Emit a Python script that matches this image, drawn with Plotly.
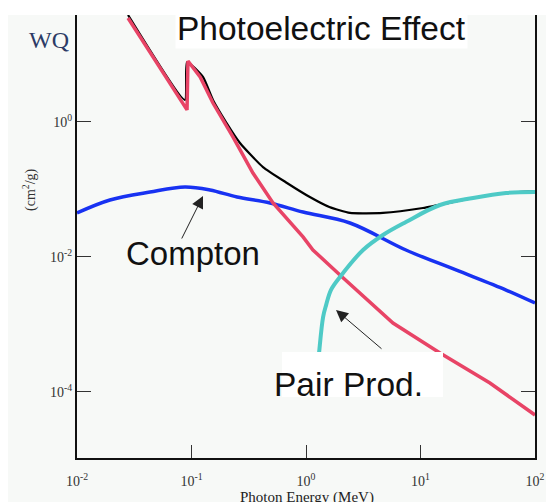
import plotly.graph_objects as go

# Photon energy (MeV) and mass attenuation (cm^2/g)
total_E = [0.0279, 0.0877, 0.0914, 0.126, 0.154, 0.200, 0.265, 0.421, 0.682, 1.08, 1.6, 2.42, 4.70, 10.5, 28.8, 55.9, 100]
total_mu = [38.5, 2.12, 7.74, 4.64, 2.12, 1.0, 0.489, 0.215, 0.125, 0.0774, 0.055, 0.0449, 0.0449, 0.0532, 0.0748, 0.0887, 0.095]

photo_E = [0.0279, 0.0914, 0.0931, 0.119, 0.154, 0.230, 0.344, 0.515, 0.942, 1.15, 1.98, 2.57, 5.75, 14.8, 40.4, 100]
photo_mu = [34.7, 1.51, 8.01, 4.64, 1.91, 0.600, 0.175, 0.0631, 0.0198, 0.0127, 0.00541, 0.00359, 0.00105, 0.000378, 0.000136, 0.0000456]

compton_E = [0.01, 0.0194, 0.0434, 0.0877, 0.145, 0.250, 0.485, 0.942, 2.42, 7.46, 20.4, 55.9, 100]
compton_mu = [0.0449, 0.0699, 0.0918, 0.109, 0.0984, 0.0774, 0.0631, 0.0464, 0.0319, 0.0127, 0.00642, 0.00324, 0.00208]

pair_E = [1.27, 1.30, 1.41, 1.50, 1.65, 1.98, 3.15, 4.70, 7.46, 14.8, 28.8, 55.9, 100]
pair_mu = [0.00025, 0.000378, 0.00129, 0.00195, 0.00324, 0.00506, 0.0127, 0.0212, 0.033, 0.0589, 0.0748, 0.0887, 0.0918]

x_ticks = [0.01, 0.1, 1, 10, 100]
x_labels = ["10<sup>-2</sup>", "10<sup>-1</sup>", "10<sup>0</sup>", "10<sup>1</sup>", "10<sup>2</sup>"]
y_ticks = [1, 0.01, 0.0001]
y_labels = ["10<sup>0</sup>", "10<sup>-2</sup>", "10<sup>-4</sup>"]

W, H = 546, 502
L, R, T, B = 77, 535, 15, 458


def px(x):
    return (x - L) / (R - L)


def py(y):
    return (B - y) / (B - T)


fig = go.Figure()
fig.add_trace(go.Scatter(x=total_E, y=total_mu, mode="lines",
                         line=dict(color="#000000", width=2.2, shape="spline", smoothing=0.5)))
fig.add_trace(go.Scatter(x=compton_E, y=compton_mu, mode="lines",
                         line=dict(color="#1832f2", width=3.5, shape="spline")))
fig.add_trace(go.Scatter(x=photo_E, y=photo_mu, mode="lines",
                         line=dict(color="#e84466", width=3.5)))
fig.add_trace(go.Scatter(x=pair_E, y=pair_mu, mode="lines",
                         line=dict(color="#4ecac6", width=4, shape="spline")))

serif = "Liberation Serif"
sans = "Liberation Sans"

fig.update_layout(
    width=W, height=H,
    margin=dict(l=L, r=W - R, t=T, b=H - B, autoexpand=False),
    paper_bgcolor="white",
    plot_bgcolor="#f7f9f7",
    showlegend=False,
    xaxis=dict(type="log", range=[-2, 2], tickvals=x_ticks, ticktext=x_labels,
               ticks="inside", ticklen=13, tickwidth=1, tickcolor="#333",
               showline=True, linecolor="#111", linewidth=2, mirror=False,
               showgrid=False, zeroline=False, automargin=False,
               ticklabelstandoff=9,
               tickfont=dict(family=serif, size=14, color="#333")),
    yaxis=dict(type="log", range=[-4.978, 1.585], tickvals=y_ticks, ticktext=y_labels,
               ticks="inside", ticklen=14, tickwidth=1, tickcolor="#333",
               showline=True, linecolor="#111", linewidth=2, mirror="ticks",
               showgrid=False, zeroline=False, automargin=False,
               tickfont=dict(family=serif, size=14, color="#333")),
    shapes=[
        dict(type="rect", xref="paper", yref="paper", layer="below",
             x0=px(8), x1=px(W), y0=py(15), y1=py(H),
             fillcolor="#f7f9f7", line=dict(width=0)),
        dict(type="rect", xref="paper", yref="paper", layer="above",
             x0=px(282), x1=px(443), y0=py(397), y1=py(352),
             fillcolor="white", line=dict(width=0)),
    ],
    annotations=[
        dict(text="Photoelectric Effect", xref="paper", yref="paper", x=px(321), y=py(28),
             showarrow=False, font=dict(family=sans, size=33.5, color="#111"), bgcolor="white",
             xanchor="center", yanchor="middle"),
        dict(text="Compton", xref="paper", yref="paper", x=px(193), y=py(254),
             showarrow=False, font=dict(family=sans, size=33, color="#111"),
             xanchor="center", yanchor="middle"),
        dict(text="Pair Prod.", xref="paper", yref="paper", x=px(348), y=py(384),
             showarrow=False, font=dict(family=sans, size=33.5, color="#111"),
             xanchor="center", yanchor="middle"),
        dict(text="", xref="paper", yref="paper", x=px(203), y=py(196),
             ax=181 - 203, ay=240 - 196, showarrow=True, arrowhead=2, arrowsize=2.4,
             arrowwidth=1, arrowcolor="#222"),
        dict(text="", xref="paper", yref="paper", x=px(336), y=py(310),
             ax=383 - 336, ay=350 - 310, showarrow=True, arrowhead=2, arrowsize=2.4,
             arrowwidth=1, arrowcolor="#222"),
        dict(text="WQ", xref="paper", yref="paper", x=px(49), y=py(40),
             showarrow=False, font=dict(family=serif, size=24, color="#2c3b66"),
             xanchor="center", yanchor="middle"),
        dict(text="(cm<sup>2</sup>/g)", xref="paper", yref="paper", x=px(29), y=py(190),
             showarrow=False, textangle=-90, font=dict(family=serif, size=14, color="#333"),
             xanchor="center", yanchor="middle"),
        dict(text="Photon Energy (MeV)", xref="paper", yref="paper", x=px(307), y=py(487),
             showarrow=False, font=dict(family=serif, size=15, color="#222"),
             xanchor="center", yanchor="top"),
    ],
)

fig.write_html("out.html", config={"displayModeBar": False},
               post_script="document.body.style.margin='0';")
